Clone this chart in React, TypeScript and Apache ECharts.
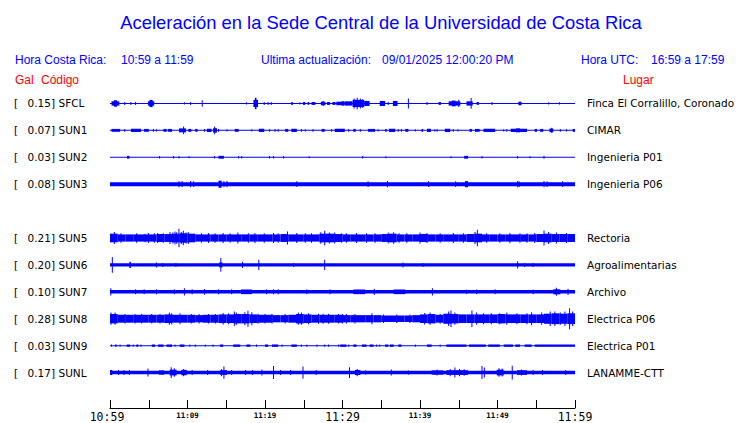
import React, { useEffect, useRef } from "react";
import * as echarts from "echarts";

const TITLE = "Aceleración en la Sede Central de la Universidad de Costa Rica";
const LOCAL_LABEL = "Hora Costa Rica:";
const LOCAL_RANGE = "10:59 a 11:59";
const UPDATE_LABEL = "Ultima actualización:";
const UPDATE_VALUE = "09/01/2025 12:00:20 PM";
const UTC_LABEL = "Hora UTC:";
const UTC_RANGE = "16:59 a 17:59";

const CODES = ["SFCL", "SUN1", "SUN2", "SUN3", "", "SUN5", "SUN6", "SUN7", "SUN8", "SUN9", "SUNL"];
const GAL = ["0.15", "0.07", "0.03", "0.08", "", "0.21", "0.20", "0.10", "0.28", "0.03", "0.17"];
const PLACES = [
  "Finca El Corralillo, Coronado", "CIMAR", "Ingenieria P01", "Ingenieria P06", "",
  "Rectoria", "Agroalimentarias", "Archivo", "Electrica P06", "Electrica P01", "LANAMME-CTT",
];
const TICK_LABELS = ["10:59", "11:09", "11:19", "11:29", "11:39", "11:49", "11:59"];

// continuous background amplitude of each trace (Gal, half-amplitude)
const BASE = [0.014, 0.014, 0.014, 0.056, 0, 0, 0.047, 0.05, 0, 0.014, 0.05];

// one-minute envelopes for the noisiest traces (Gal)
const SUN5_ENV = [0.12, 0.1, 0.1, 0.1, 0.1, 0.1, 0.11, 0.11, 0.12, 0.13, 0.12, 0.1, 0.1, 0.1, 0.1, 0.1, 0.1, 0.1, 0.1, 0.1, 0.1, 0.1, 0.11, 0.1, 0.1, 0.1, 0.1, 0.12, 0.12, 0.11, 0.1, 0.1, 0.1, 0.1, 0.1, 0.11, 0.12, 0.1, 0.1, 0.1, 0.11, 0.1, 0.1, 0.1, 0.1, 0.1, 0.11, 0.12, 0.1, 0.1, 0.1, 0.1, 0.1, 0.1, 0.1, 0.11, 0.12, 0.11, 0.11, 0.11];
const SUN8_ENV = [0.13, 0.11, 0.11, 0.11, 0.11, 0.11, 0.11, 0.12, 0.11, 0.11, 0.11, 0.1, 0.11, 0.11, 0.12, 0.12, 0.13, 0.13, 0.12, 0.11, 0.11, 0.1, 0.1, 0.11, 0.13, 0.12, 0.11, 0.11, 0.11, 0.11, 0.1, 0.1, 0.1, 0.1, 0.1, 0.09, 0.09, 0.09, 0.09, 0.1, 0.12, 0.13, 0.11, 0.14, 0.13, 0.12, 0.12, 0.12, 0.12, 0.12, 0.13, 0.12, 0.12, 0.12, 0.12, 0.12, 0.14, 0.15, 0.14, 0.15];

// bursts and spikes: [start minute, end minute, half-amplitude Gal]
const SFCL_EV = [[0.2, 1.2, 0.06], [0.5, 0.9, 0.09], [1.9, 1.9, 0.04], [2.7, 2.7, 0.04], [3.3, 3.3, 0.04], [4.9, 5.7, 0.06], [5.1, 5.5, 0.1], [9.6, 9.6, 0.03], [10.4, 10.4, 0.04], [11.9, 11.9, 0.09], [17.6, 17.6, 0.03], [18.5, 19.1, 0.1], [18.7, 18.9, 0.16], [19.9, 19.9, 0.04], [20.4, 20.5, 0.04], [20.8, 20.9, 0.04], [23.4, 23.6, 0.04], [24.5, 24.6, 0.03], [24.9, 25.2, 0.04], [25.5, 25.7, 0.04], [26, 26.5, 0.04], [27.2, 27.8, 0.05], [27.5, 27.5, 0.07], [28, 28.4, 0.04], [28.7, 29.1, 0.04], [29.2, 30.3, 0.05], [29.9, 30.2, 0.06], [30.3, 31.3, 0.06], [31.3, 32.8, 0.1], [31.5, 31.5, 0.14], [31.9, 31.9, 0.16], [32.3, 32.3, 0.14], [32.6, 32.6, 0.12], [32.8, 33.5, 0.07], [34.8, 35.5, 0.07], [35.9, 35.9, 0.04], [36.5, 37.1, 0.07], [38.5, 38.5, 0.14], [40.9, 40.9, 0.04], [42.4, 42.7, 0.04], [43.7, 45.2, 0.06], [44.1, 44.6, 0.08], [45, 45, 0.1], [46, 46.8, 0.06], [46.6, 46.6, 0.15], [47.3, 47.6, 0.04], [49.3, 49.3, 0.04], [52.7, 53.1, 0.05], [56.6, 56.6, 0.03], [58, 58, 0.03]];
const SUN1_EV = [[0.2, 1.3, 0.04], [1.9, 1.9, 0.04], [2.7, 4.0, 0.045], [4.4, 5.0, 0.04], [5.6, 5.6, 0.04], [6.0, 6.0, 0.03], [6.9, 7.3, 0.04], [7.5, 8.0, 0.04], [8.9, 9.8, 0.055], [9.5, 9.5, 0.11], [10.1, 10.5, 0.04], [11.0, 11.3, 0.04], [12.2, 12.2, 0.04], [12.5, 13.1, 0.045], [13.3, 13.8, 0.06], [13.5, 13.5, 0.11], [14, 14, 0.04], [15.1, 15.1, 0.03], [16.1, 16.6, 0.04], [18.3, 18.3, 0.03], [19.2, 19.9, 0.045], [20.6, 20.6, 0.04], [21.3, 21.3, 0.04], [21.7, 21.7, 0.04], [22.6, 23, 0.04], [23.4, 24.1, 0.045], [24.7, 24.7, 0.04], [25.2, 25.2, 0.03], [26.2, 26.2, 0.04], [27.3, 27.7, 0.04], [28.6, 28.6, 0.04], [29, 30.3, 0.045], [30.8, 30.8, 0.04], [31.4, 31.7, 0.04], [32.3, 32.3, 0.04], [33.3, 34.2, 0.04], [34.6, 34.6, 0.03], [35.5, 35.7, 0.04], [36, 36.8, 0.045], [37.2, 37.2, 0.04], [37.6, 37.6, 0.04], [38.1, 38.5, 0.04], [39.4, 39.4, 0.03], [40.2, 40.4, 0.04], [40.9, 41.4, 0.045], [41.9, 41.9, 0.03], [42.2, 42.2, 0.04], [43.2, 43.9, 0.045], [44.3, 44.3, 0.04], [44.9, 44.9, 0.03], [46.4, 46.7, 0.04], [47.1, 47.7, 0.04], [48.2, 49.7, 0.045], [50.8, 50.8, 0.03], [51.2, 51.2, 0.04], [51.7, 53.8, 0.045], [52.4, 52.9, 0.055], [54.8, 55.1, 0.04], [55.5, 55.9, 0.04], [56.7, 57.2, 0.05], [57, 57, 0.07], [58.1, 58.1, 0.04], [58.9, 58.9, 0.03], [59.7, 60, 0.04]];
const SUN2_EV = [[2.2, 2.5, 0.04], [6.4, 6.4, 0.035], [8.2, 8.2, 0.035], [8.9, 8.9, 0.035], [10.2, 10.2, 0.03], [13.5, 13.5, 0.035], [14, 14.7, 0.04], [16.6, 16.6, 0.035], [17, 17, 0.035], [20.6, 20.6, 0.035], [21.1, 21.1, 0.035], [22.4, 22.4, 0.035], [25.7, 25.7, 0.03], [32.6, 32.6, 0.035], [35.6, 35.6, 0.03], [44, 44, 0.03], [45.7, 46.2, 0.04], [48, 48, 0.035], [52.6, 52.6, 0.035], [54.2, 54.2, 0.03], [56, 56, 0.04]];
const SUN3_EV = [[8.9, 8.9, 0.085], [9.3, 9.3, 0.085], [10.4, 10.4, 0.085], [10.8, 10.8, 0.08], [14, 14.4, 0.1], [14.7, 14.7, 0.085], [15.1, 15.1, 0.085], [24.1, 24.1, 0.08], [33.3, 33.3, 0.08], [35.8, 35.8, 0.085], [41.1, 41.1, 0.08], [44.6, 44.6, 0.08], [45.8, 46.2, 0.085], [52.6, 52.6, 0.085], [52.8, 52.8, 0.08], [56, 56, 0.085], [56.4, 56.4, 0.08], [58.4, 58.4, 0.08]];
const SUN5_EV = [[0.56, 0.56, 0.17], [1.42, 1.42, 0.13], [3.44, 3.44, 0.13], [4.52, 4.52, 0.12], [4.95, 4.95, 0.14], [5.72, 5.72, 0.13], [6.15, 6.15, 0.14], [6.88, 6.88, 0.13], [7.74, 7.74, 0.17], [8.1, 8.1, 0.15], [8.39, 8.39, 0.18], [8.6, 8.6, 0.16], [8.9, 8.9, 0.26], [9.2, 9.2, 0.17], [9.46, 9.46, 0.2], [9.8, 9.8, 0.15], [10.1, 10.1, 0.17], [11.8, 11.8, 0.13], [12.7, 12.7, 0.14], [13.55, 13.55, 0.13], [14.6, 14.6, 0.14], [15.5, 15.5, 0.13], [16.5, 16.5, 0.15], [17.85, 17.85, 0.13], [18.7, 18.7, 0.14], [19.9, 19.9, 0.13], [21.1, 21.1, 0.14], [21.7, 21.7, 0.13], [22.9, 22.9, 0.18], [24.1, 24.1, 0.14], [25.2, 25.2, 0.13], [26.0, 26.0, 0.13], [27.2, 27.2, 0.16], [27.7, 27.7, 0.2], [28.3, 28.3, 0.15], [29.0, 29.0, 0.15], [29.9, 29.9, 0.13], [30.5, 30.5, 0.13], [31.8, 31.8, 0.14], [33.1, 33.1, 0.13], [34.2, 34.2, 0.13], [35.9, 35.9, 0.15], [36.6, 36.6, 0.16], [37.3, 37.3, 0.13], [38.3, 38.3, 0.13], [40.0, 40.0, 0.15], [40.9, 40.9, 0.14], [42.6, 42.6, 0.13], [44.3, 44.3, 0.14], [45.6, 45.6, 0.13], [47.1, 47.1, 0.17], [47.4, 47.4, 0.23], [48.6, 48.6, 0.13], [50.3, 50.3, 0.13], [51.6, 51.6, 0.14], [52.9, 52.9, 0.13], [53.8, 53.8, 0.13], [54.8, 54.8, 0.14], [56.0, 56.0, 0.21], [56.6, 56.6, 0.17], [57.6, 57.6, 0.15], [58.9, 58.9, 0.14]];
const SUN6_EV = [[0.3, 0.3, 0.22], [2.5, 2.7, 0.085], [6.0, 6.0, 0.07], [6.8, 6.8, 0.055], [8.5, 8.5, 0.055], [14.3, 14.3, 0.19], [14.1, 14.5, 0.07], [17.1, 17.1, 0.085], [19.2, 19.2, 0.14], [23.7, 23.7, 0.055], [27.7, 27.7, 0.14], [37.8, 37.8, 0.07], [40.4, 40.4, 0.055], [52.6, 52.6, 0.1], [53.5, 53.5, 0.055], [54.6, 54.6, 0.055]];
const SUN7_EV = [[0.1, 0.1, 0.1], [3.3, 3.3, 0.07], [4.4, 4.4, 0.07], [6, 6, 0.07], [8.3, 8.3, 0.07], [9.6, 9.6, 0.1], [10.6, 10.6, 0.07], [12.2, 12.2, 0.08], [14, 14, 0.07], [15.7, 15.7, 0.07], [16.9, 18.3, 0.065], [20.2, 20.2, 0.07], [21.1, 21.1, 0.07], [21.7, 21.7, 0.07], [25.4, 25.4, 0.07], [28.4, 28.4, 0.07], [31.4, 32.9, 0.065], [34.1, 34.1, 0.085], [36.6, 38.1, 0.065], [41.6, 41.6, 0.1], [46, 46, 0.06], [47.3, 47.3, 0.065], [49.7, 49.7, 0.07], [54.6, 54.6, 0.065], [57.2, 58.1, 0.07], [57.6, 57.6, 0.11], [59.1, 59.1, 0.085]];
const SUN8_EV = [[0.13, 0.13, 0.17], [0.65, 0.65, 0.17], [1.94, 1.94, 0.13], [3.23, 3.23, 0.13], [4.09, 4.09, 0.13], [5.38, 5.38, 0.13], [6.45, 6.45, 0.13], [7.66, 7.66, 0.17], [7.96, 7.96, 0.15], [9.03, 9.03, 0.15], [10.5, 10.5, 0.13], [11.5, 11.5, 0.13], [12.7, 12.7, 0.13], [13.6, 13.6, 0.13], [14.6, 14.6, 0.16], [15.3, 15.3, 0.15], [16.04, 16.04, 0.2], [16.3, 16.3, 0.17], [17.4, 17.4, 0.18], [17.8, 17.8, 0.22], [18.3, 18.3, 0.18], [19.1, 19.1, 0.14], [20.0, 20.0, 0.13], [20.9, 20.9, 0.13], [22.6, 22.6, 0.13], [24.3, 24.3, 0.17], [24.7, 24.7, 0.17], [25.6, 25.6, 0.15], [26.9, 26.9, 0.14], [27.5, 27.5, 0.14], [28.2, 28.2, 0.14], [29.5, 29.5, 0.13], [30.0, 30.0, 0.13], [30.5, 30.5, 0.13], [31.6, 31.6, 0.13], [33.8, 33.8, 0.15], [35.3, 35.3, 0.12], [37.0, 37.0, 0.12], [38.7, 38.7, 0.12], [40.6, 40.6, 0.16], [41.3, 41.3, 0.17], [42.6, 42.6, 0.14], [43.7, 43.7, 0.2], [44.0, 44.0, 0.23], [44.5, 44.5, 0.17], [46.7, 46.7, 0.23], [47.3, 47.3, 0.17], [48.2, 48.2, 0.15], [49.2, 49.2, 0.15], [50.3, 50.3, 0.15], [51.2, 51.2, 0.17], [52.5, 52.5, 0.15], [53.8, 53.8, 0.15], [54.4, 54.4, 0.18], [55.7, 55.7, 0.17], [56.8, 56.8, 0.2], [57.4, 57.4, 0.2], [58.1, 58.1, 0.17], [58.7, 58.7, 0.2], [59.3, 59.3, 0.29], [59.7, 59.7, 0.2]];
const SUN9_EV = [[0.2, 0.3, 0.033], [0.65, 0.86, 0.033], [1.3, 1.4, 0.033], [2.15, 2.6, 0.033], [3.0, 3.1, 0.033], [3.4, 3.65, 0.033], [4.0, 4.1, 0.033], [5.4, 5.8, 0.033], [6.2, 6.9, 0.033], [7.3, 8.0, 0.033], [8.4, 8.5, 0.033], [9.0, 9.6, 0.033], [10.3, 10.4, 0.033], [11.0, 11.1, 0.033], [12.3, 12.4, 0.033], [13.3, 13.4, 0.033], [14.2, 14.6, 0.033], [15.9, 16.8, 0.033], [17.6, 18.1, 0.033], [18.9, 19.0, 0.033], [20.0, 20.4, 0.033], [20.9, 21.7, 0.033], [22.2, 22.3, 0.033], [23.4, 24.1, 0.033], [24.7, 24.8, 0.033], [25.4, 25.5, 0.033], [26.7, 26.8, 0.033], [27.7, 27.8, 0.033], [28.2, 28.3, 0.033], [29.5, 29.6, 0.033], [29.7, 30.5, 0.033], [30.8, 30.9, 0.033], [31.4, 31.8, 0.033], [32.5, 33.1, 0.033], [33.5, 34.0, 0.033], [34.4, 34.5, 0.033], [34.8, 34.9, 0.033], [35.5, 35.9, 0.033], [36.1, 36.6, 0.033], [37.2, 37.6, 0.033], [39.4, 39.5, 0.033], [40.9, 41.5, 0.033], [42.6, 42.7, 0.033], [43.4, 46.0, 0.033], [46.3, 48.5, 0.033], [48.8, 50.3, 0.033], [50.8, 52.0, 0.033], [52.3, 52.9, 0.033], [53.5, 54.4, 0.033], [54.8, 60, 0.033]];
const SUNL_EV = [[0, 0.3, 0.07], [1.1, 1.1, 0.07], [1.8, 1.8, 0.07], [2.5, 2.5, 0.07], [4.9, 4.9, 0.11], [6.3, 7.0, 0.06], [7.7, 8.6, 0.08], [7.9, 7.9, 0.15], [8.3, 8.3, 0.12], [9.2, 9.9, 0.075], [9.5, 9.5, 0.1], [10.6, 10.6, 0.07], [12.6, 12.6, 0.07], [14.2, 15.1, 0.065], [14.7, 14.7, 0.17], [14.4, 14.4, 0.1], [15.7, 15.7, 0.07], [17.5, 17.5, 0.07], [18.4, 18.4, 0.07], [19.6, 19.6, 0.085], [21.1, 21.1, 0.18], [22, 22, 0.07], [23.3, 23.3, 0.07], [24.9, 24.9, 0.17], [26.6, 26.6, 0.07], [30.9, 30.9, 0.15], [31.6, 32.3, 0.07], [31.9, 31.9, 0.1], [33, 33, 0.06], [36.3, 36.3, 0.085], [38.5, 38.5, 0.06], [41.5, 43, 0.06], [42.2, 42.2, 0.085], [43.4, 46.2, 0.065], [43.9, 43.9, 0.1], [44.5, 44.5, 0.14], [45.1, 45.1, 0.1], [45.7, 45.7, 0.09], [48, 48, 0.18], [48.3, 48.3, 0.14], [49.9, 50.8, 0.08], [50.2, 50.2, 0.12], [50.6, 50.6, 0.11], [51.9, 51.9, 0.19], [52.5, 53.8, 0.065], [53.1, 53.1, 0.085], [54.6, 54.6, 0.07], [55.8, 55.8, 0.07], [58.8, 58.8, 0.07]];

const EVENTS = [SFCL_EV, SUN1_EV, SUN2_EV, SUN3_EV, [], SUN5_EV, SUN6_EV, SUN7_EV, SUN8_EV, SUN9_EV, SUNL_EV];
const ENVELOPES: [number, number[]][] = [[5, SUN5_ENV], [8, SUN8_ENV]];

const PX_PER_GAL = 36;
const BLUE = "#0000ff";
const LABEL_FONT = "DejaVu Sans";

function buildItems() {
  const items: number[][] = [];
  BASE.forEach((b, row) => {
    if (b > 0) items.push([row, 0, 60, b]);
  });
  ENVELOPES.forEach(([row, env]) => env.forEach((a, m) => items.push([row, m, m + 1, a])));
  EVENTS.forEach((list, row) => list.forEach((ev) => items.push([row, ev[0], ev[1], ev[2]])));
  return items;
}

export default function App() {
  const ref = useRef<HTMLDivElement>(null);
  useEffect(() => {
    document.body.style.margin = "0";
    const chart = echarts.init(ref.current!, null, { renderer: "svg" });
    const labelAxis = (extra: any) => ({
      type: "category",
      data: CODES.map((_, i) => String(i)),
      inverse: true,
      gridIndex: 0,
      axisLine: { show: false },
      axisTick: { show: false },
      splitLine: { show: false },
      ...extra,
    });
    const textStyle = (text: string, fill: string, size: number, extra: any = {}) => ({
      text, fill, fontSize: size, fontFamily: "Liberation Sans", textVerticalAlign: "middle", ...extra,
    });
    const option: any = {
      animation: false,
      backgroundColor: "#ffffff",
      grid: { left: 110, width: 465, top: 90, height: 297, containLabel: false },
      xAxis: {
        type: "value",
        min: 0,
        max: 60,
        interval: 5,
        offset: 22,
        axisLine: { show: true, lineStyle: { color: "#000", width: 1 } },
        axisTick: { show: true, inside: true, length: 8, lineStyle: { color: "#000", width: 1 } },
        splitLine: { show: false },
        axisLabel: {
          margin: 3,
          formatter: (v: number) => {
            if (v % 10 !== 0) return "";
            const label = TICK_LABELS[v / 10];
            if (v === 0) return `{first|${label}}`;
            return v % 30 === 0 ? `{big|${label}}` : `{small|${label}}`;
          },
          rich: {
            first: { fontSize: 11.5, fontFamily: "DejaVu Sans Mono", color: "#000", padding: [0, 6, 0, 0] },
            big: { fontSize: 11.5, fontFamily: "DejaVu Sans Mono", color: "#000" },
            small: { fontSize: 7.5, fontWeight: "bold", fontFamily: "DejaVu Sans Mono", color: "#000" },
          },
        },
      },
      yAxis: [
        labelAxis({ position: "left", axisLabel: { interval: 0, margin: 0, color: "#fff", formatter: () => "" } }),
        labelAxis({
          position: "left",
          axisLabel: {
            interval: 0, margin: 96, align: "left", color: "#000", fontFamily: LABEL_FONT, fontSize: 10.5,
            formatter: (_: string, i: number) => (CODES[i] ? "[" : ""),
          },
        }),
        labelAxis({
          position: "left",
          axisLabel: {
            interval: 0, margin: 55, align: "right", color: "#000", fontFamily: LABEL_FONT, fontSize: 10.5,
            formatter: (_: string, i: number) => (GAL[i] ? GAL[i] + "]" : ""),
          },
        }),
        labelAxis({
          position: "left",
          axisLabel: {
            interval: 0, margin: 51.5, align: "left", color: "#000", fontFamily: LABEL_FONT, fontSize: 10.5,
            formatter: (_: string, i: number) => CODES[i],
          },
        }),
        labelAxis({
          position: "right",
          axisLabel: {
            interval: 0, margin: 12, align: "left", color: "#000", fontFamily: LABEL_FONT, fontSize: 10.5,
            formatter: (_: string, i: number) => PLACES[i],
          },
        }),
      ],
      graphic: [
        { type: "text", x: 381, y: 22, style: textStyle(TITLE, BLUE, 18.4, { textAlign: "center" }) },
        { type: "text", x: 15, y: 60, style: textStyle(LOCAL_LABEL, BLUE, 12) },
        { type: "text", x: 121, y: 60, style: textStyle(LOCAL_RANGE, BLUE, 12) },
        { type: "text", x: 261, y: 60, style: textStyle(UPDATE_LABEL, BLUE, 12) },
        { type: "text", x: 382, y: 60, style: textStyle(UPDATE_VALUE, BLUE, 12) },
        { type: "text", x: 581, y: 60, style: textStyle(UTC_LABEL, BLUE, 12) },
        { type: "text", x: 651, y: 60, style: textStyle(UTC_RANGE, BLUE, 12) },
        { type: "text", x: 15, y: 80, style: textStyle("Gal", "#ff0000", 12) },
        { type: "text", x: 41, y: 80, style: textStyle("Código", "#ff0000", 12) },
        { type: "text", x: 623, y: 80, style: textStyle("Lugar", "#ff0000", 12) },
      ],
      series: [
        {
          type: "custom",
          xAxisIndex: 0,
          yAxisIndex: 0,
          encode: { x: [1, 2], y: 0 },
          data: buildItems(),
          renderItem: (_params: any, api: any) => {
            const row = api.value(0);
            const s = api.value(1);
            const e = api.value(2);
            const a = api.value(3);
            const p0 = api.coord([s, row]);
            const p1 = api.coord([e, row]);
            const h = Math.max(1, a * PX_PER_GAL * 2);
            let w = p1[0] - p0[0];
            let x = p0[0];
            if (w < 1) {
              x = p0[0] - 0.5;
              w = 1;
            }
            return {
              type: "rect",
              shape: { x, y: p0[1] - h / 2, width: w, height: h },
              style: { fill: BLUE },
            };
          },
        },
      ],
    };
    chart.setOption(option);
    return () => chart.dispose();
  }, []);
  return <div ref={ref} style={{ width: 740, height: 423 }} />;
}
